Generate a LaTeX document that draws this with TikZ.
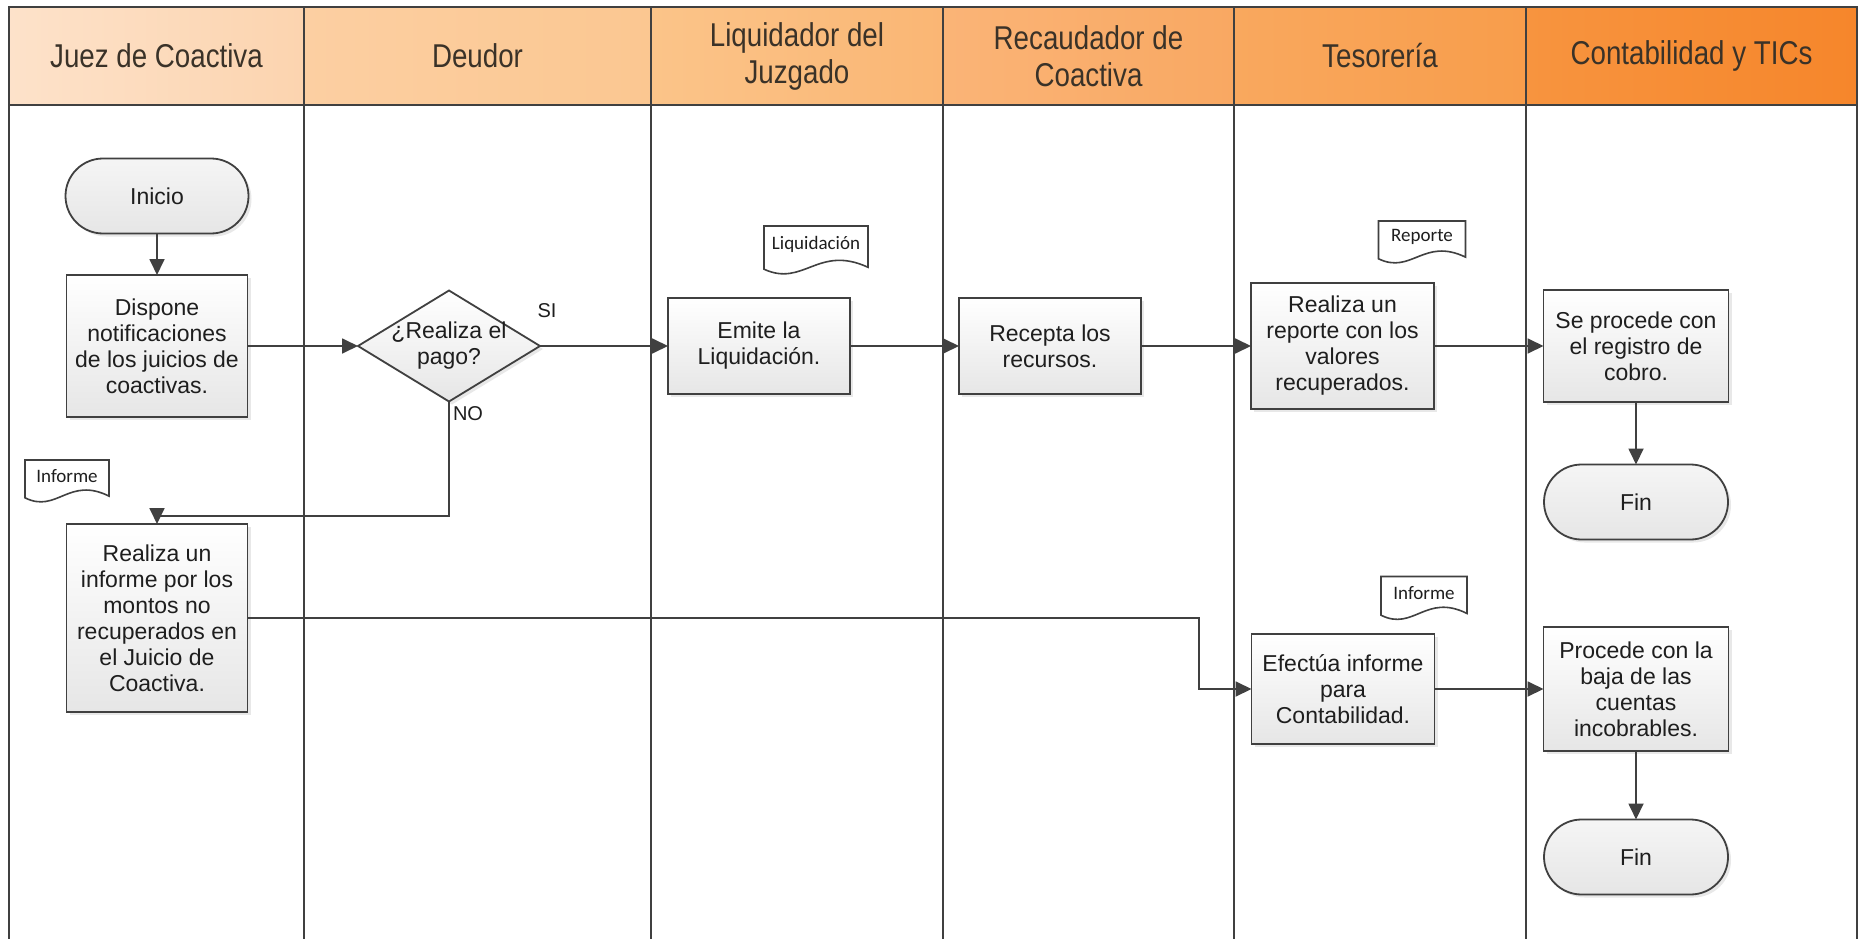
\documentclass[tikz,border=0pt]{standalone}
\usepackage{fontspec}
\setmainfont{Liberation Sans}
\newfontfamily\hdrfont[FakeStretch=0.84]{Liberation Sans}
\newfontfamily\docfont{Carlito}
\usetikzlibrary{shapes.geometric,shapes.misc,arrows.meta,shadows}
\definecolor{ln}{HTML}{404040}
\definecolor{txt}{HTML}{1E1E1E}
\definecolor{hdrtxt}{HTML}{3A3228}
\definecolor{boxbot}{HTML}{E6E6E6}
\definecolor{hAa}{HTML}{FDE2CA}\definecolor{hAb}{HTML}{FCD4AF}
\definecolor{hBa}{HTML}{FCCFA2}\definecolor{hBb}{HTML}{FBC791}
\definecolor{hCa}{HTML}{FBC489}\definecolor{hCb}{HTML}{FAB674}
\definecolor{hDa}{HTML}{FAB477}\definecolor{hDb}{HTML}{F9A862}
\definecolor{hEa}{HTML}{F9A85E}\definecolor{hEb}{HTML}{F89D4B}
\definecolor{hFa}{HTML}{F7943F}\definecolor{hFb}{HTML}{F6862B}
\newcommand\docshape[6]{% name, cx, cy, w, h, text
  \draw[draw=ln, line width=1.6pt, fill=white]
    (#2-#4/2,#3-#5/2) -- (#2+#4/2,#3-#5/2) -- (#2+#4/2,#3+0.36*#5)
    .. controls (#2+0.02*#4,#3-0.12*#5) and (#2-0.12*#4,#3+0.78*#5) .. (#2-#4/2,#3+0.4*#5) -- cycle;
  \node[doctext] (#1) at (#2,#3-0.12*#5) {#6};}
\begin{document}
\begin{tikzpicture}[x=1pt,y=-1pt,
  every node/.style={inner sep=0pt, outer sep=0pt},
  hdr/.style={draw=ln, line width=1.6pt, text=hdrtxt, font=\hdrfont\fontsize{33}{37}\selectfont, align=center, minimum height=98pt},
  procbox/.style={draw=ln, line width=1.8pt, top color=white, bottom color=boxbot, text=txt, align=center,
     font=\fontsize{23}{26}\selectfont, drop shadow={opacity=0.18, shadow xshift=3pt, shadow yshift=-3pt}},
  term/.style={procbox, rounded rectangle, top color=white!96!black, bottom color=boxbot},
  decbox/.style={procbox, diamond},
  doctext/.style={font=\docfont\fontsize{19}{22}\selectfont, text=txt},
  lbl/.style={font=\fontsize{20}{24}\selectfont, text=txt},
  btext/.style={font=\fontsize{23}{26}\selectfont, text=txt, align=center},
  lane/.style={draw=ln, line width=1.6pt},
  flow/.style={draw=ln, line width=1.8pt, -{Triangle[length=16pt,width=15pt]}},
]
\useasboundingbox (0,0) rectangle (1860,939);
\fill[white] (0,0) rectangle (1860,939);
% lanes
\foreach \x in {9,304,651,943,1234,1526,1857} {\draw[lane] (\x,105) -- (\x,945);}
% headers
\node[hdr, left color=hAa, right color=hAb, minimum width=295pt] (h1) at (156.5,56) {Juez de Coactiva};
\node[hdr, left color=hBa, right color=hBb, minimum width=347pt] (h2) at (477.5,56) {Deudor};
\node[hdr, left color=hCa, right color=hCb, minimum width=292pt] (h3) at (797,56) {Liquidador del\\Juzgado};
\node[hdr, left color=hDa, right color=hDb, minimum width=291pt] (h4) at (1088.5,56) {Recaudador de\\Coactiva};
\node[hdr, left color=hEa, right color=hEb, minimum width=292pt] (h5) at (1380,56) {Tesorería};
\node[hdr, left color=hFa, right color=hFb, minimum width=331pt] (h6) at (1691.5,56) {Contabilidad y TICs};
% nodes
\node[term, minimum width=183pt, minimum height=75pt] (inicio) at (157,196) {Inicio};
\node[procbox, minimum width=181pt, minimum height=142pt] (dispone) at (157,346) {Dispone\\notificaciones\\de los juicios de\\coactivas.};
\node[decbox, minimum width=182pt, minimum height=111pt] (dec) at (449,346) {};
\node[btext] (dectext) at (449,346) {¿Realiza el\\pago?};
\node[lbl] (si) at (547,311) {SI};
\node[lbl] (no) at (468,414) {NO};
\docshape{liqdoc}{816}{250}{104}{48}{Liquidación}
\node[procbox, minimum width=182pt, minimum height=96pt] (emite) at (759,346) {Emite la\\Liquidación.};
\node[procbox, minimum width=182pt, minimum height=96pt] (recepta) at (1050,346) {Recepta los\\recursos.};
\docshape{repdoc}{1422}{242}{87}{42}{Reporte}
\node[procbox, minimum width=183pt, minimum height=126pt] (reporte) at (1342.5,346) {Realiza un\\reporte con los\\valores\\recuperados.};
\node[procbox, minimum width=185pt, minimum height=112pt] (seproc) at (1636,346) {Se procede con\\el registro de\\cobro.};
\node[term, minimum width=184pt, minimum height=75pt] (fin1) at (1636,502) {Fin};
\docshape{infdoc1}{67}{481}{84}{42}{Informe}
\node[procbox, minimum width=181pt, minimum height=188pt] (informe) at (157,618) {Realiza un\\informe por los\\montos no\\recuperados en\\el Juicio de\\Coactiva.};
\docshape{infdoc2}{1424}{598}{86}{43}{Informe}
\node[procbox, minimum width=183pt, minimum height=110pt] (efectua) at (1343,689) {Efectúa informe\\para\\Contabilidad.};
\node[procbox, minimum width=185pt, minimum height=124pt] (procede) at (1636,689) {Procede con la\\baja de las\\cuentas\\incobrables.};
\node[term, minimum width=184pt, minimum height=75pt] (fin2) at (1636,857) {Fin};
% connectors
\draw[flow] (inicio.south) -- (dispone.north);
\draw[flow] (dispone.east) -- (dec.west);
\draw[flow] (dec.east) -- (emite.west);
\draw[flow] (emite.east) -- (recepta.west);
\draw[flow] (recepta.east) -- (reporte.west);
\draw[flow] (reporte.east) -- (seproc.west);
\draw[flow] (seproc.south) -- (fin1.north);
\coordinate (c1) at (449,516);
\draw[flow] (dec.south) -- (c1) -| (informe.north);
\coordinate (k1) at (1199,618);
\draw[flow] (informe.east) -- (k1) |- (efectua.west);
\draw[flow] (efectua.east) -- (procede.west);
\draw[flow] (procede.south) -- (fin2.north);
\end{tikzpicture}
\end{document}
